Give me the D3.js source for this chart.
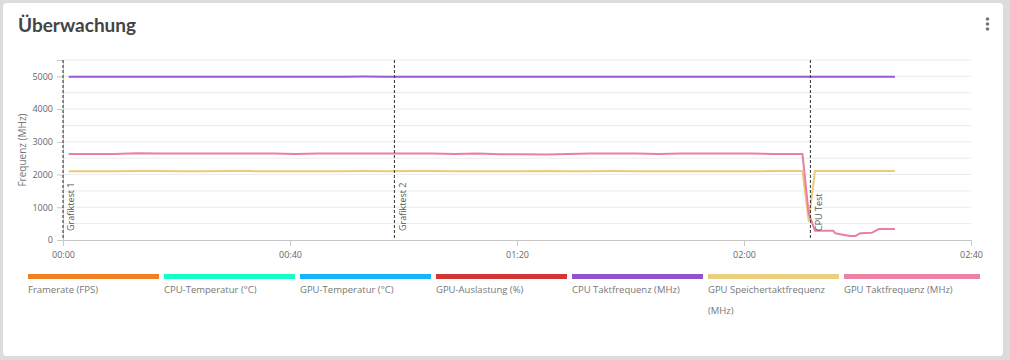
<!DOCTYPE html>
<html><head><meta charset="utf-8">
<script src="https://cdn.jsdelivr.net/npm/d3@7"></script>
<style>
html,body{margin:0;padding:0;background:#dcdcdc;}
svg{display:block;}
</style></head>
<body>
<svg id="c" width="1010" height="360"></svg>
<script>
// ---- data ----
const times = [1,5,9,13,17,21,25,29,33,37,41,45,49,53,57,61,65,69,73,77,81,85,89,93,97,101,105,109,113,117,121,125,129,
  130.3,131.4,132.5,133.6,134.7,135.7,136.1,137.4,138.7,139.6,140.5,141.5,142.5,143.7,144.8,145.7,146.6];
const cpuClock = [4990,4990,4990,4990,4990,4990,4990,4990,4990,4990,4990,4990,4990,4993,4990,4990,4990,4990,4990,4990,4990,4990,4990,4990,4990,4990,4990,4990,4990,4990,4990,4990,4990,
  4990,4990,4990,4990,4990,4990,4990,4990,4990,4990,4990,4990,4990,4990,4990,4990,4990];
const gpuClock = [2630,2630,2630,2650,2640,2640,2640,2640,2640,2640,2630,2640,2640,2640,2640,2640,2640,2630,2640,2620,2620,2610,2630,2640,2640,2640,2630,2640,2640,2640,2640,2630,2630,
  2630,815,284,284,284,284,205,160,120,120,210,215,220,335,335,335,335];
const gpuMemClock = [2100,2100,2100,2105,2110,2100,2100,2110,2105,2100,2100,2100,2100,2105,2100,2110,2105,2100,2100,2100,2100,2110,2100,2100,2105,2100,2100,2100,2100,2100,2100,2105,2105,
  2105,580,2105,2105,2105,2110,2105,2105,2105,2110,2105,2105,2110,2105,2110,2110,2110];
const xTicks = [0,40,80,120,160];
const yTicks = [0,1000,2000,3000,4000,5000];
const markers = [{t:0,label:"Grafiktest 1"},{t:58.4,label:"Grafiktest 2"},{t:131.7,label:"CPU Test"}];
const legendNames = ["Framerate (FPS)","CPU-Temperatur (°C)","GPU-Temperatur (°C)","GPU-Auslastung (%)","CPU Taktfrequenz (MHz)","GPU Speichertaktfrequenz (MHz)","GPU Taktfrequenz (MHz)"];
const legendColors = ["#f28023","#17fdc6","#16b5f9","#d43535","#9152cc","#ebcf80","#ec82a6"];
const series = [
  {name:"CPU Taktfrequenz (MHz)", values:cpuClock, color:"#9b57d3"},
  {name:"GPU Speichertaktfrequenz (MHz)", values:gpuMemClock, color:"#ebcb7a"},
  {name:"GPU Taktfrequenz (MHz)", values:gpuClock, color:"#ea7fa5"}
];

// ---- layout ----
const svg = d3.select("#c");
svg.append("rect").attr("x",3).attr("y",3).attr("width",1000).attr("height",353).attr("rx",4).attr("fill","#fff");
svg.append("text").attr("x",18).attr("y",32).text("Überwachung")
  .attr("font-family","Lato").attr("font-weight",700).attr("font-size",19).attr("fill","#444");
[19,24,29].forEach(cy=>svg.append("circle").attr("cx",987.5).attr("cy",cy).attr("r",1.8).attr("fill","#777"));

const x = d3.scaleLinear().domain([0,160]).range([63,971]);
const y = d3.scaleLinear().domain([0,5500]).range([240,60]);
const font = "Open Sans";

// grid
svg.append("g").selectAll("line").data(d3.range(500,5501,500)).join("line")
  .attr("x1",63).attr("x2",971).attr("y1",d=>y(d)).attr("y2",d=>y(d))
  .attr("stroke","#ebebeb").attr("stroke-width",1);

const fmt = s => { const m=Math.floor(s/60), ss=Math.round(s%60); return String(m).padStart(2,"0")+":"+String(ss).padStart(2,"0"); };
const gx = svg.append("g").attr("transform","translate(0,240)")
  .call(d3.axisBottom(x).tickValues(xTicks).tickFormat(fmt).tickSize(6).tickSizeOuter(0));
const gy = svg.append("g").attr("transform","translate(63,0)")
  .call(d3.axisLeft(y).tickValues(yTicks).tickFormat(d3.format("d")).tickSize(6).tickSizeOuter(6).tickPadding(4));
[gx,gy].forEach(g=>{
  g.selectAll("path,line").attr("stroke","#c8c8c8");
  g.selectAll("text").attr("font-family",font).attr("font-size",9).attr("fill","#666");
});
gx.selectAll("text").attr("dy","0.95em");

svg.append("text").attr("transform","translate(26,150) rotate(-90)").attr("text-anchor","middle")
  .attr("font-family",font).attr("font-size",10).attr("fill","#777").text("Frequenz (MHz)");

// lines
const line = d3.line().x((d,i)=>x(times[i])).y(d=>y(d));
series.forEach(s=>{
  svg.append("path").datum(s.values).attr("d",line).attr("fill","none")
    .attr("stroke",s.color).attr("stroke-width",2).attr("stroke-linejoin","round");
});

// markers
const mk = svg.append("g").selectAll("g").data(markers).join("g").attr("transform",d=>`translate(${x(d.t)},0)`);
mk.append("line").attr("y1",60).attr("y2",240).attr("stroke","#333").attr("stroke-width",1).attr("stroke-dasharray","3,2");
mk.append("text").attr("transform","translate(8,231) rotate(-90)").attr("dy","0.35em")
  .attr("font-family",font).attr("font-size",9).attr("fill","#555").text(d=>d.label);

// legend
const lg = svg.append("g").selectAll("g").data(legendNames).join("g").attr("transform",(d,i)=>`translate(${28+i*136},0)`);
lg.append("rect").attr("y",274).attr("width",(d,i)=>i===6?136:131).attr("height",5).attr("fill",(d,i)=>legendColors[i]);
lg.each(function(d){
  const g=d3.select(this);
  const m = d.match(/^(.*) (\(MHz\))$/);
  const lines = (d.length>26 && m) ? [m[1],m[2]] : [d];
  lines.forEach((t,k)=>g.append("text").attr("x",0).attr("y",293+k*21)
    .attr("font-family",font).attr("font-size",9.5).attr("fill","#777").text(t));
});
</script>
</body></html>
